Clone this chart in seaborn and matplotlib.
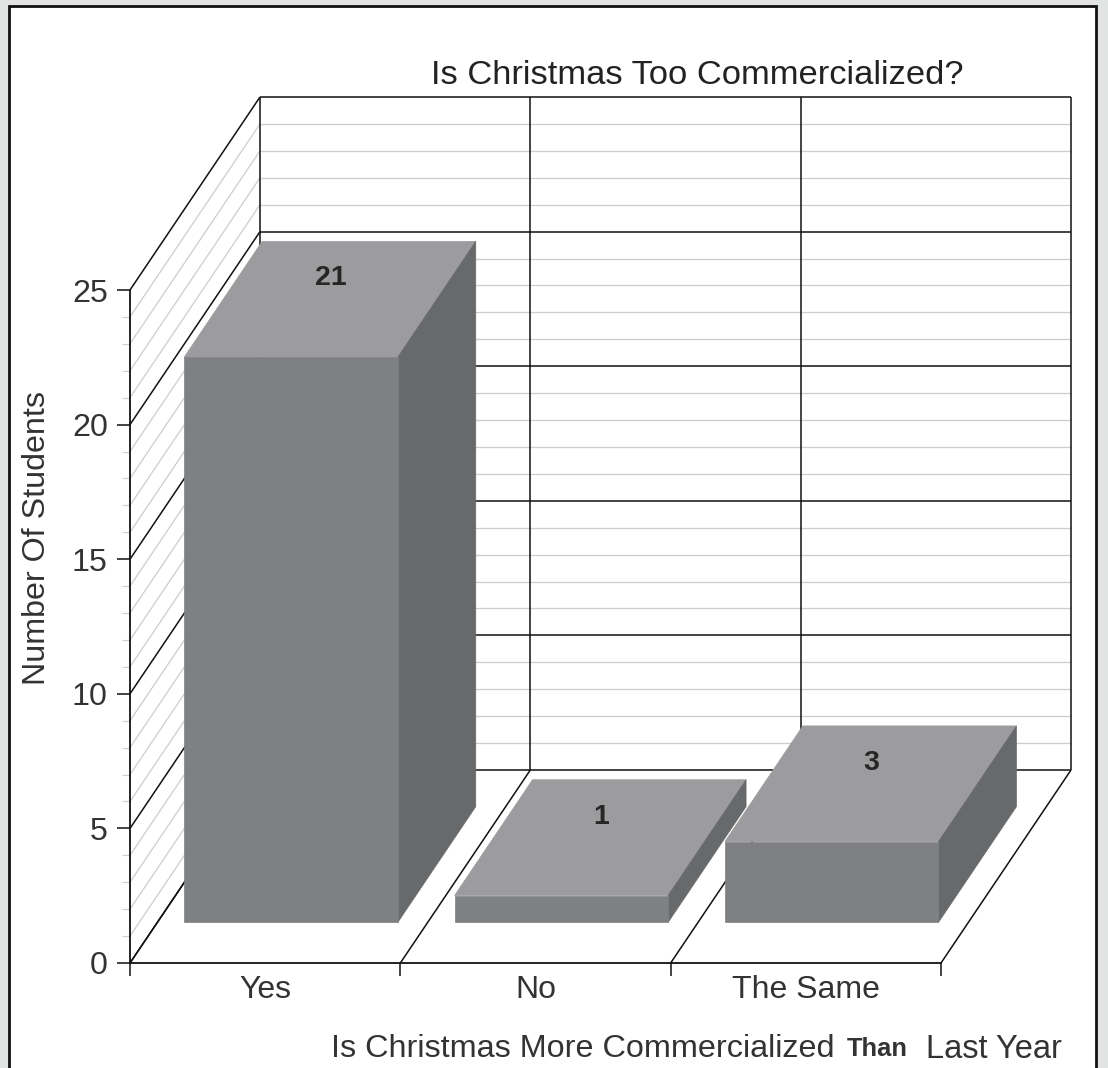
import numpy as np
import pandas as pd
import matplotlib
matplotlib.use("Agg")
import matplotlib.pyplot as plt
from matplotlib.patches import Polygon, Rectangle
import seaborn as sns

# values
answers = ["Yes", "No", "The Same"]
students = [21, 1, 3]
major_ticks = [0, 5, 10, 15, 20, 25]
minor_ticks = [1, 2, 3, 4, 6, 7, 8, 9, 11, 12, 13, 14, 16, 17, 18, 19, 21, 22, 23, 24]
cat_edges = [-0.5, 0.5, 1.5, 2.5]

W, H = 1108, 1068
# fake 3d: full depth of the box in data units
DEPTH_X = 130 / 270.33
DEPTH_Y = 193 / 26.92
BAR_NEAR = 0.21
BAR_FAR = 0.81
BAR_SHIFT = -1.5 / 270.33

FRONT = "#7f8082"
TOP = "#9c9c9e"
SIDE = "#68696b"
TEXT = "#333333"
GRID = "#cdcdcd"
BLACK = "#111111"

sns.set_theme(style="white")
plt.rcParams["font.family"] = ["Liberation Sans", "DejaVu Sans"]


def px(x, y):
    return x / W, 1 - y / H


def depth(x, y, d):
    return x + d * DEPTH_X, y + d * DEPTH_Y


fig = plt.figure(figsize=(W / 100, H / 100), dpi=100, facecolor="#e2e4e3")
fig.add_artist(Rectangle(px(9, 1090), 1087 / W, 1084 / H, transform=fig.transFigure,
                         facecolor="white", edgecolor=BLACK, linewidth=2, zorder=-1))

x0, y0 = px(130, 963)
ax = fig.add_axes([x0, y0, 811 / W, 673 / H])
ax.patch.set_alpha(0)

df = pd.DataFrame({"answer": answers, "students": students})
sns.barplot(data=df, x="answer", y="students", color=FRONT, saturation=1, width=0.79,
            order=answers, ax=ax, zorder=5, errorbar=None, linewidth=0.5, edgecolor=FRONT)
ax.set_xlim(-0.5, 2.5)
ax.set_ylim(0, 25)


def line(xs, ys, color=BLACK, lw=1.1, z=1):
    ax.plot(xs, ys, color=color, lw=lw, zorder=z, clip_on=False, solid_capstyle="butt")


# left wall and back wall grid
for tick, color, lw in [(t, GRID, 0.9) for t in minor_ticks] + [(t, BLACK, 1.1) for t in major_ticks]:
    bx, by = depth(cat_edges[0], tick, 1)
    line([cat_edges[0], bx], [tick, by], color, lw)
    line([bx, depth(cat_edges[-1], tick, 1)[0]], [by, by], color, lw)

# floor and back wall verticals
for edge in cat_edges:
    bx, by = depth(edge, 0, 1)
    line([edge, bx], [0, by])
    line([bx, bx], [by, depth(edge, major_ticks[-1], 1)[1]])

# move the bars back into the box and add their top and side faces
for bar, value in zip(ax.patches, students):
    left, width = bar.get_x(), bar.get_width()
    nx, ny = depth(left, 0, BAR_NEAR)
    nx += BAR_SHIFT
    bar.set_x(nx)
    bar.set_y(ny)
    bar.set_clip_on(False)
    right = nx + width
    top = ny + value
    dx = (BAR_FAR - BAR_NEAR) * DEPTH_X
    dy = (BAR_FAR - BAR_NEAR) * DEPTH_Y
    z = bar.get_zorder()
    ax.add_patch(Polygon([(nx, top), (right, top), (right + dx, top + dy), (nx + dx, top + dy)],
                         facecolor=TOP, edgecolor=TOP, linewidth=0.5, zorder=z - 0.1, clip_on=False))
    ax.add_patch(Polygon([(right, ny), (right + dx, ny + dy), (right + dx, top + dy), (right, top)],
                         facecolor=SIDE, edgecolor=SIDE, linewidth=0.5, zorder=z - 0.1, clip_on=False))
    ax.annotate(str(value), xy=(nx + width / 2, top), xytext=(40, 79), textcoords="offset pixels",
                ha="center", va="center", fontsize=20.5, fontweight="bold", color="#262626",
                zorder=z + 1, annotation_clip=False)

# axes
sns.despine(ax=ax, top=True, right=True)
for side in ["left", "bottom"]:
    ax.spines[side].set_color(BLACK)
    ax.spines[side].set_linewidth(1.3)
    ax.spines[side].set_zorder(4)

ax.set_yticks(major_ticks)
ax.set_yticks(minor_ticks, minor=True)
ax.set_xticks(range(len(answers)))
ax.set_xticklabels(answers)
ax.set_xticks(cat_edges, minor=True)
ax.set_xlabel("")
ax.set_ylabel("")
ax.tick_params(axis="y", which="major", length=9.5, width=1.1, color=BLACK, labelsize=23.2,
               labelcolor=TEXT, pad=6.5, left=True)
ax.tick_params(axis="y", which="minor", length=5.5, width=0.8, color=GRID, left=True)
ax.tick_params(axis="x", which="major", length=0, labelsize=23, labelcolor=TEXT, pad=9)
ax.tick_params(axis="x", which="minor", length=9.5, width=1.1, color=BLACK, bottom=True)

# titles
fig.text(*px(697, 75), "Is Christmas Too Commercialized?", ha="center", va="center",
         fontsize=24.8, color="#222222")
fig.text(*px(37, 538), "Number Of Students", rotation=90, ha="center", va="center",
         fontsize=23.2, color=TEXT)
fig.text(*px(331, 1049), "Is Christmas More Commercialized", ha="left", va="center",
         fontsize=23.3, color=TEXT)
fig.text(*px(847, 1049), "Than", ha="left", va="center", fontsize=18.4, fontweight="bold", color=TEXT)
fig.text(*px(926, 1049), "Last Year", ha="left", va="center", fontsize=23.5, color=TEXT)

fig.savefig("out.png", dpi=100, facecolor=fig.get_facecolor())
